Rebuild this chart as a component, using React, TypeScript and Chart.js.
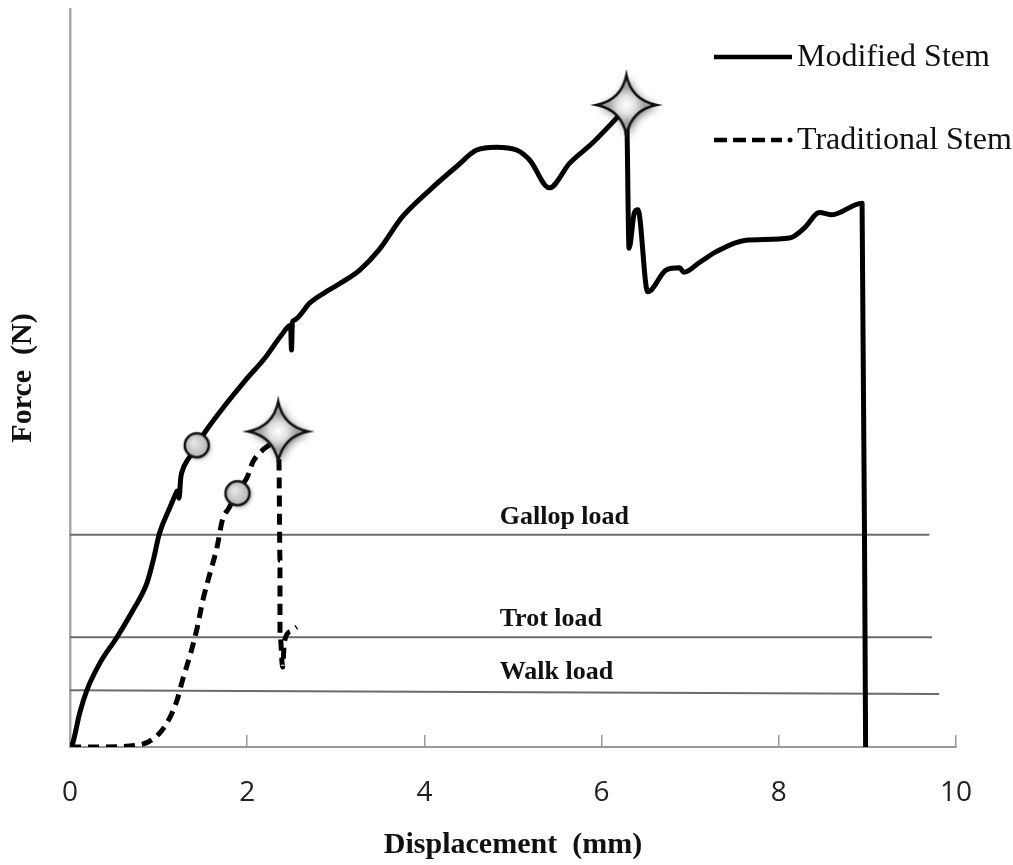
import React, { useEffect, useRef } from 'react';
import { Chart, registerables } from 'chart.js';

Chart.register(...registerables);

// ---- data (displacement in mm, force in relative units) ----
const seriesNames = ['Modified Stem', 'Traditional Stem'];

const modDisp = [
  0, 0.03, 0.11, 0.19, 0.34, 0.53, 0.71, 0.87, 0.94, 1.01, 1.13, 1.2, 1.21, 1.23, 1.25,
  1.26, 1.35, 1.43, 1.54, 1.75, 1.97, 2.2, 2.39, 2.49, 2.5, 2.51, 2.53, 2.71, 2.93, 3.08, 3.27,
  3.49, 3.75, 4.06, 4.36, 4.59, 4.81, 5.04, 5.19, 5.41, 5.64, 5.9, 6.2, 6.28, 6.31, 6.37,
  6.41, 6.52, 6.73, 6.88, 6.93, 7.1, 7.29, 7.63, 8.12, 8.29, 8.46, 8.6, 8.94, 8.98,
];
const modForce = [
  0, 0.5, 4.7, 7.8, 11.6, 15.1, 18.8, 22.6, 25.7, 29.4, 33.0, 35.0, 35.2, 34.2, 37.0,
  37.7, 39.9, 41.5, 43.6, 47.0, 50.3, 53.5, 56.7, 58.0, 54.6, 58.4, 58.7, 61.1, 62.9, 64.0, 65.6,
  68.4, 72.9, 76.6, 79.8, 82.1, 82.5, 82.1, 80.7, 76.9, 80.3, 83.1, 86.9, 88.0, 68.6, 73.5,
  73.9, 62.6, 65.6, 65.9, 65.3, 66.6, 68.1, 69.7, 70.0, 71.4, 73.5, 73.2, 74.8, 0,
];

const tradDisp = [
  0, 0.34, 0.79, 1.01, 1.13, 1.21, 1.27, 1.35, 1.43, 1.5, 1.58, 1.66, 1.72, 1.8, 1.88,
  2.0, 2.06, 2.18, 2.29, 2.35, 2.36, 2.37, 2.37, 2.4, 2.42, 2.5, 2.56,
];
const tradForce = [
  0, 0, 0.3, 1.9, 4.1, 6.5, 9.2, 12.4, 16.1, 20.2, 23.9, 27.5, 31.2, 33.0, 35.1,
  37.1, 39.1, 40.9, 42.0, 43.3, 38.1, 25.7, 15.7, 11.0, 14.5, 16.0, 16.5,
];

const xTicks = [0, 2, 4, 6, 8, 10];

const loadNames = ['Gallop load', 'Trot load', 'Walk load'];
const loadStartForce = [29.2, 15.1, 7.8];
const loadEndForce = [29.2, 15.1, 7.3];
const loadEndDisp = [9.7, 9.73, 9.81];
const loadLabelDisp = 4.85;

const circleDisp = [1.43, 1.89];
const circleForce = [41.5, 34.9];
const starDisp = [6.28, 2.35];
const starForce = [88.3, 43.4];

// ---- marker images ----
function makeStar(): HTMLCanvasElement {
  const c = document.createElement('canvas');
  const S = 84;
  c.width = S;
  c.height = S;
  const g = c.getContext('2d') as CanvasRenderingContext2D;
  const cx = S / 2, cy = S / 2, R = 30, k = 5;
  g.beginPath();
  g.moveTo(cx, cy - R);
  g.quadraticCurveTo(cx + k, cy - k, cx + R, cy);
  g.quadraticCurveTo(cx + k, cy + k, cx, cy + R);
  g.quadraticCurveTo(cx - k, cy + k, cx - R, cy);
  g.quadraticCurveTo(cx - k, cy - k, cx, cy - R);
  g.closePath();
  g.save();
  g.shadowColor = 'rgba(0,0,0,0.6)';
  g.shadowBlur = 8;
  g.shadowOffsetX = 2;
  g.shadowOffsetY = 2;
  const grad = g.createRadialGradient(cx, cy, 0, cx, cy, R * 0.6);
  grad.addColorStop(0, '#ffffff');
  grad.addColorStop(0.5, '#e2e2e2');
  grad.addColorStop(1, '#a0a0a0');
  g.fillStyle = grad;
  g.fill();
  g.restore();
  g.lineWidth = 2.5;
  g.strokeStyle = '#111';
  g.stroke();
  return c;
}

function makeCircle(): HTMLCanvasElement {
  const c = document.createElement('canvas');
  const S = 36;
  c.width = S;
  c.height = S;
  const g = c.getContext('2d') as CanvasRenderingContext2D;
  const cx = S / 2, cy = S / 2, R = 12;
  g.beginPath();
  g.arc(cx, cy, R, 0, Math.PI * 2);
  g.save();
  g.shadowColor = 'rgba(0,0,0,0.45)';
  g.shadowBlur = 4;
  g.shadowOffsetX = 1.5;
  g.shadowOffsetY = 1.5;
  const grad = g.createRadialGradient(cx - 3, cy - 3, 1, cx, cy, R);
  grad.addColorStop(0, '#e6e6e6');
  grad.addColorStop(1, '#b4b4b4');
  g.fillStyle = grad;
  g.fill();
  g.restore();
  g.lineWidth = 2.5;
  g.strokeStyle = '#111';
  g.stroke();
  return c;
}

const zip = (xs: number[], ys: number[]) => xs.map((x, i) => ({ x, y: ys[i] }));

const overlayPlugin = {
  id: 'overlay',
  afterDatasetsDraw(chart: any) {
    const { ctx, scales } = chart;
    const x = scales.x, y = scales.y;
    ctx.save();
    // load labels
    ctx.font = 'bold 26px "Liberation Serif", serif';
    ctx.fillStyle = '#111';
    ctx.textAlign = 'left';
    ctx.textBaseline = 'alphabetic';
    loadNames.forEach((n, i) => {
      ctx.fillText(n, x.getPixelForValue(loadLabelDisp), y.getPixelForValue(loadStartForce[i]) - 11);
    });
    // legend
    const lx0 = 714, lx1 = 792, tx = 797;
    const rows = [57, 140];
    ctx.strokeStyle = '#000';
    ctx.lineWidth = 4.5;
    ctx.lineCap = 'butt';
    ctx.beginPath();
    ctx.moveTo(lx0, rows[0]);
    ctx.lineTo(lx1, rows[0]);
    ctx.stroke();
    ctx.setLineDash([13, 6]);
    ctx.beginPath();
    ctx.moveTo(lx0, rows[1]);
    ctx.lineTo(lx1 - 10, rows[1]);
    ctx.stroke();
    ctx.setLineDash([]);
    ctx.beginPath();
    ctx.arc(lx1 - 2, rows[1], 2.5, 0, Math.PI * 2);
    ctx.fillStyle = '#000';
    ctx.fill();
    ctx.font = '32px "Liberation Serif", serif';
    ctx.fillStyle = '#111';
    ctx.textBaseline = 'middle';
    seriesNames.forEach((n, i) => ctx.fillText(n, tx, rows[i] + 1));
    ctx.restore();
  },
};

export default function App() {
  const ref = useRef<HTMLCanvasElement | null>(null);
  useEffect(() => {
    if (!ref.current) return;
    const star = makeStar();
    const circle = makeCircle();
    const loadSets = loadNames.map((n, i) => ({
      type: 'line' as const,
      label: n,
      data: [
        { x: 0, y: loadStartForce[i] },
        { x: loadEndDisp[i], y: loadEndForce[i] },
      ],
      borderColor: '#6b6b6b',
      borderWidth: 2,
      pointRadius: 0,
      order: 10,
    }));
    const chart = new Chart(ref.current, {
      type: 'line',
      data: {
        datasets: [
          {
            label: seriesNames[0],
            data: zip(modDisp, modForce),
            borderColor: '#000',
            borderWidth: 5,
            pointRadius: 0,
            cubicInterpolationMode: 'monotone',
            borderJoinStyle: 'round',
            borderCapStyle: 'round',
            order: 1,
          },
          {
            label: seriesNames[1],
            data: zip(tradDisp, tradForce),
            borderColor: '#000',
            borderWidth: 5,
            borderDash: [11, 7],
            pointRadius: 0,
            cubicInterpolationMode: 'monotone',
            borderJoinStyle: 'round',
            order: 2,
          },
          ...loadSets,
          {
            type: 'scatter' as const,
            label: 'circles',
            data: zip(circleDisp, circleForce),
            pointStyle: circle,
            pointRadius: 12,
            showLine: false,
            clip: false,
            order: 0,
          },
          {
            type: 'scatter' as const,
            label: 'stars',
            data: zip(starDisp, starForce),
            pointStyle: star,
            pointRadius: 30,
            showLine: false,
            clip: false,
            order: 0,
          },
        ] as any,
      },
      options: {
        animation: false,
        responsive: false,
        events: [],
        layout: { autoPadding: false, padding: { top: 9, right: 56, left: 0, bottom: 0 } },
        plugins: { legend: { display: false }, tooltip: { enabled: false } },
        scales: {
          x: {
            type: 'linear',
            min: 0,
            max: 10,
            afterBuildTicks: (s: any) => {
              s.ticks = xTicks.map((v) => ({ value: v }));
            },
            afterFit: (s: any) => {
              s.height = 118;
            },
            ticks: {
              padding: 41,
              color: '#222',
              font: { family: '"Open Sans", sans-serif', size: 28 },
              maxRotation: 0,
            },
            grid: {
              display: true,
              drawOnChartArea: false,
              drawTicks: true,
              tickLength: -12,
              color: '#999',
              lineWidth: 1.5,
            },
            border: { display: true, color: '#999', width: 2 },
            title: {
              display: true,
              text: 'Displacement  (mm)',
              color: '#111',
              font: { family: '"Liberation Serif", serif', size: 30, weight: 'bold' },
              padding: { top: 0, bottom: 2 },
            },
          },
          y: {
            type: 'linear',
            min: 0,
            max: 101.5,
            afterFit: (s: any) => {
              s.width = 70;
            },
            ticks: { display: false },
            grid: { display: false },
            border: { display: true, color: '#a8a8a8', width: 2.5 },
            title: {
              display: true,
              text: 'Force  (N)',
              color: '#111',
              font: { family: '"Liberation Serif", serif', size: 30, weight: 'bold' },
              padding: { top: 5, bottom: 0 },
            },
          },
        },
      } as any,
      plugins: [overlayPlugin],
    });
    return () => chart.destroy();
  }, []);
  return (
    <div style={{ position: 'absolute', left: 0, top: 0, width: 1013, height: 865, background: '#fff' }}>
      <canvas ref={ref} width={1013} height={865} style={{ display: 'block' }} />
    </div>
  );
}
